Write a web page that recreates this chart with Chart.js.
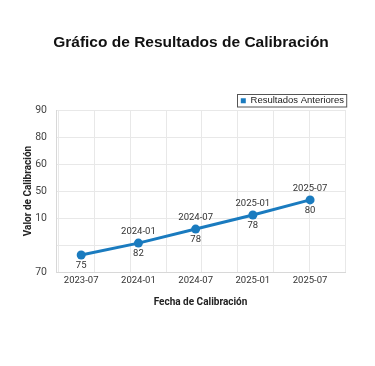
<!DOCTYPE html>
<html>
<head>
<meta charset="utf-8">
<script src="https://cdn.jsdelivr.net/npm/chart.js@4.4.0/dist/chart.umd.min.js"></script>
<style>
  html, body { margin: 0; padding: 0; background: #fff; }
  #wrap { width: 375px; height: 366px; position: relative; }
</style>
</head>
<body>
<div id="wrap"><canvas id="chart"></canvas></div>
<script>
// x labels (one per calibration date)
const dates = ['2023-07', '2024-01', '2024-07', '2025-01', '2025-07'];
// y position of each point on the axis (axis index units)
const positions = [0.63, 1.07, 1.59, 2.11, 2.67];
// text drawn above / below each point
const topLabels = ['', '2024-01', '2024-07', '2025-01', '2025-07'];
const valueLabels = ['75', '82', '78', '78', '80'];
// y tick labels, bottom to top
const yTickLabels = ['70', '', '10', '50', '60', '80', '90'];

const chartTitle = 'Gráfico de Resultados de Calibración';
const lineColor = '#1a7bbf';
const small = { family: 'Roboto', size: 9.5 };

// title centred on the whole canvas (the plot is not centred)
const pageTitle = {
    id: 'pageTitle',
    afterDraw(chart) {
        const ctx = chart.ctx;
        ctx.save();
        ctx.font = 'bold 15.5px "Liberation Sans"';
        ctx.fillStyle = '#111';
        ctx.textAlign = 'center';
        ctx.textBaseline = 'middle';
        ctx.fillText(chartTitle, 191, 43);
        ctx.restore();
    }
};

// keep the legend row short so the plot starts right under it
const legendHeight = {
    id: 'legendHeight',
    beforeLayout(chart) {
        const lg = chart.legend;
        if (!lg || lg._fitWrapped) return;
        const fit = lg.fit;
        lg.fit = function () {
            fit.call(this);
            this.height = 15;
        };
        lg._fitWrapped = true;
    }
};

// labels above and below each point
const pointLabels = {
    id: 'pointLabels',
    afterDatasetsDraw(chart) {
        const ctx = chart.ctx;
        const meta = chart.getDatasetMeta(0);
        ctx.save();
        ctx.font = '9.5px Roboto';
        ctx.fillStyle = '#333';
        ctx.textAlign = 'center';
        meta.data.forEach((pt, i) => {
            ctx.textBaseline = 'bottom';
            if (topLabels[i]) ctx.fillText(topLabels[i], pt.x, pt.y - 7);
            ctx.textBaseline = 'top';
            ctx.fillText(valueLabels[i], pt.x, pt.y + 6);
        });
        ctx.restore();
    }
};

// thin frame round the legend
const legendFrame = {
    id: 'legendFrame',
    afterDraw(chart) {
        const items = chart.legend.legendHitBoxes;
        if (!items || !items.length) return;
        const b = items[0];
        const ctx = chart.ctx;
        ctx.save();
        ctx.strokeStyle = '#555';
        ctx.lineWidth = 1;
        ctx.strokeRect(Math.round(b.left) - 3.5, Math.round(b.top) - 1.5, b.width + 6, b.height + 3);
        ctx.restore();
    }
};

new Chart(document.getElementById('chart'), {
    type: 'line',
    data: {
        datasets: [{
            label: 'Resultados Anteriores',
            data: positions.map((v, i) => ({ x: i, y: v })),
            borderColor: lineColor,
            backgroundColor: lineColor,
            borderWidth: 3,
            pointRadius: 4.5,
            pointBackgroundColor: lineColor,
            pointBorderWidth: 0,
            tension: 0,
            fill: false
        }]
    },
    options: {
        responsive: true,
        maintainAspectRatio: false,
        animation: false,
        layout: { padding: { left: 20, right: 30, top: 95, bottom: 57.6 } },
        plugins: {
            title: { display: false },
            legend: {
                position: 'top',
                align: 'end',
                labels: {
                    usePointStyle: true,
                    pointStyle: 'rect',
                    boxWidth: 5,
                    boxHeight: 5,
                    color: '#222',
                    font: { family: 'Liberation Sans', size: 9.5 },
                    padding: 1
                }
            },
            tooltip: { enabled: false }
        },
        scales: {
            x: {
                type: 'linear',
                min: -0.44,
                max: 4.61,
                grid: { display: false, drawTicks: false },
                border: { color: '#d8d8d8' },
                ticks: {
                    stepSize: 1,
                    includeBounds: false,
                    color: '#333',
                    font: small,
                    padding: 3,
                    callback: v => Number.isInteger(v) ? dates[v] : ''
                },
                title: {
                    display: true,
                    text: 'Fecha de Calibración',
                    color: '#222',
                    font: { family: 'Roboto', size: 10, weight: 'bold' },
                    padding: { top: 7, bottom: 0 }
                }
            },
            // vertical grid only, its lines do not follow the date labels
            xg: {
                type: 'linear',
                position: 'top',
                min: -0.08,
                max: 8,
                grid: { color: '#e8e8e8', drawTicks: false },
                border: { display: false },
                ticks: { display: false, stepSize: 1, includeBounds: false }
            },
            y: {
                type: 'linear',
                min: 0,
                max: 6,
                grid: { color: '#e8e8e8', drawTicks: false },
                border: { color: '#d8d8d8' },
                afterFit: scale => { scale.width = 36; },
                ticks: {
                    stepSize: 1,
                    color: '#444',
                    font: { family: 'Roboto', size: 10.5 },
                    padding: 9,
                    callback: v => yTickLabels[v]
                },
                title: {
                    display: true,
                    text: 'Valor de Calibración',
                    color: '#222',
                    font: { family: 'Roboto', size: 10, weight: 'bold' },
                    padding: { top: 2, bottom: 4 }
                }
            }
        }
    },
    plugins: [pageTitle, legendHeight, pointLabels, legendFrame]
});
</script>
</body>
</html>
